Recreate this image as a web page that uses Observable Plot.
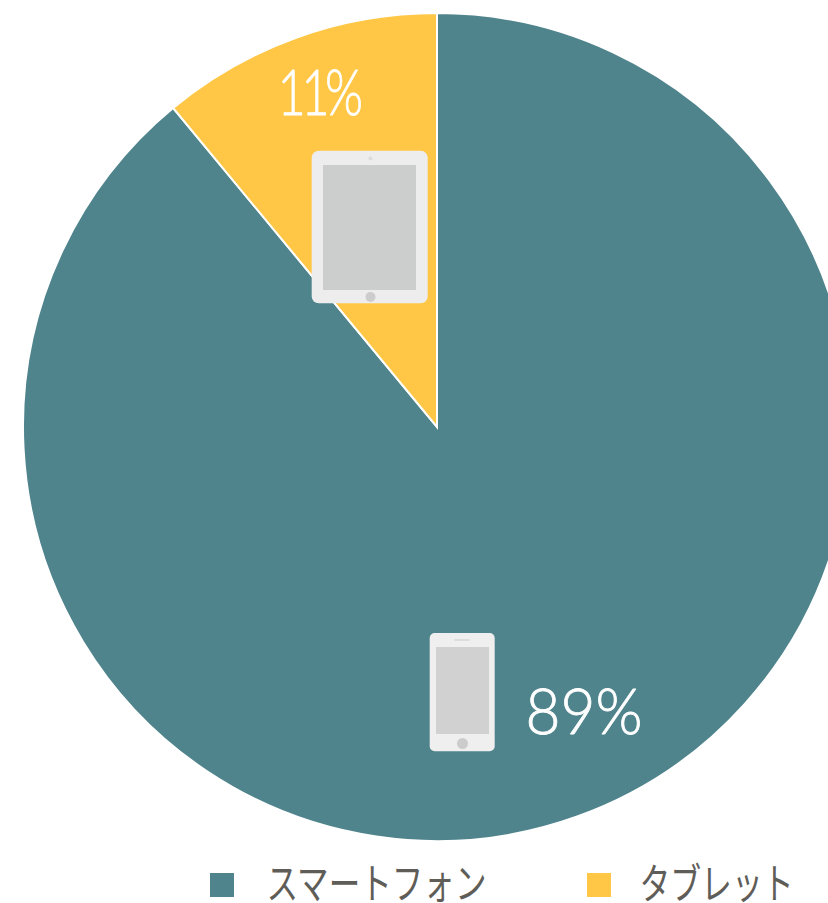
<!DOCTYPE html>
<html lang="ja">
<head>
<meta charset="utf-8">
<script src="https://cdn.jsdelivr.net/npm/d3@7"></script>
<script src="https://cdn.jsdelivr.net/npm/@observablehq/plot@0.6"></script>
<style>
  html, body { margin: 0; padding: 0; background: #fff; overflow: hidden; }
  svg { display: block; }
  .tight-pct text { letter-spacing: -6px; }
</style>
</head>
<body>
<script>
// Device share
const categories = ["スマートフォン", "タブレット"];
const shares = [89, 11];
const palette = ["#4f848c", "#ffc745"];

const rows = categories.map((category, i) => ({category, share: shares[i]}));
const rowOf = (name) => rows.filter((d) => d.category === name);
const [phoneName, tabletName] = categories;

// Plot units are pixels measured from the centre of the pie
const radius = 414;
const slices = d3.pie().sort(null).value((d) => d.share)(rows);

function pie(index, {x, y, color}) {
  const arc = d3.arc().innerRadius(0).outerRadius(radius);
  const g = d3.create("svg:g").attr("transform", `translate(${x(0)},${y(0)})`);
  g.selectAll("path")
    .data(slices)
    .join("path")
    .attr("d", arc)
    .attr("fill", (d) => color(d.data.category))
    .attr("stroke", "#fff")
    .attr("stroke-width", 2);
  return g.node();
}

const box = (x1, x2, y1, y2, fill, rx = 0) =>
  Plot.rect([0], {x1: () => x1, x2: () => x2, y1: () => y1, y2: () => y2, fill, rx});
const disc = (x, y, r, fill) => Plot.dot([0], {x: () => x, y: () => y, r, fill});

// Squeezes a text mark's glyphs to a set advance width
const fitTo = (length) => (index, scales, values, dimensions, context, next) => {
  const g = next(index, scales, values, dimensions, context);
  d3.select(g).selectAll("text")
    .attr("textLength", length)
    .attr("lengthAdjust", "spacingAndGlyphs");
  return g;
};

const percentStyle = {
  fill: "#fff",
  stroke: "#fff",
  strokeWidth: 0.8,
  fontFamily: "Lato",
  fontWeight: 300,
  fontSize: 64,
  textAnchor: "start",
  lineAnchor: "bottom"
};

const legendStyle = {
  fill: "#5f5d58",
  fontFamily: "'Noto Sans CJK JP'",
  fontWeight: 400,
  fontSize: 42,
  textAnchor: "start",
  lineAnchor: "middle"
};

const chart = Plot.plot({
  width: 828,
  height: 903,
  margin: 0,
  x: {domain: [-437, 391], range: [0, 828], axis: null},
  y: {domain: [-427, 476], range: [0, 903], axis: null},
  color: {domain: categories, range: palette},
  marks: [
    pie,

    // Tablet icon
    box(-125.3, -9.3, -276.3, -123.7, "#ededed", 7),
    box(-114, -21, -262, -137, "#cccecd"),
    disc(-67, -269, 2, "#dcdcdc"),
    disc(-67, -130.5, 5, "#cccccc"),

    // Phone icon
    box(-7.3, 57.7, 206, 324.3, "#efefef", 5),
    box(-1, 52, 220, 307, "#d0d1d0"),
    box(17.3, 33, 212, 214, "#dcdcdc", 1),
    disc(25, 316, 5.5, "#cccccc"),

    // Percentages
    Plot.text(rowOf(tabletName), {
      ...percentStyle,
      className: "tight-pct",
      x: () => -160,
      y: () => -313,
      text: (d) => `${d.share}%`,
      render: fitTo(81)
    }),
    Plot.text(rowOf(phoneName), {
      ...percentStyle,
      x: () => 88,
      y: () => 306,
      text: (d) => `${d.share}%`,
      render: fitTo(117)
    }),

    // Legend
    Plot.rect(rowOf(phoneName), {x1: () => -227, x2: () => -203, y1: () => 446, y2: () => 470, fill: "category"}),
    Plot.rect(rowOf(tabletName), {x1: () => 150, x2: () => 174, y1: () => 446, y2: () => 470, fill: "category"}),
    Plot.text(rowOf(phoneName), {...legendStyle, x: () => -171, y: () => 458, text: "category", render: fitTo(220)}),
    Plot.text(rowOf(tabletName), {...legendStyle, x: () => 202, y: () => 458, text: "category", render: fitTo(154)})
  ]
});

document.body.appendChild(chart);
</script>
</body>
</html>
